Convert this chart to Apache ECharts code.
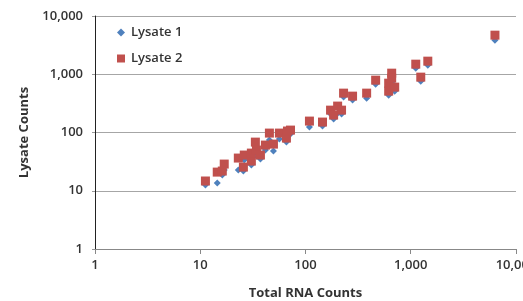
<!DOCTYPE html>
<html>
<head>
<meta charset="utf-8">
<script src="https://cdn.jsdelivr.net/npm/echarts@6/dist/echarts.min.js"></script>
<style>
  html, body { margin: 0; padding: 0; background: #fff; }
  #chart { width: 523px; height: 301px; }
</style>
</head>
<body>
<div id="chart"></div>
<script>
// total RNA counts (x) shared by both lysates
const rnaCounts = [11.2, 14.5, 16.2, 16.9, 23.0, 25.7, 26.2, 30.6, 30.6, 33.4,
  34.2, 37.3, 41.6, 45.4, 49.6, 56.5, 65.9, 67.4, 72.0, 109,
  145, 173, 185, 202, 220, 230, 280, 381, 464, 617,
  617, 659, 659, 704, 1116, 1245, 1452, 6310]
// lysate counts (y)
const lysate1 = [12.5, 13.6, 18.6, 22.6, 22.6, 21.8, 33.6, 27.6, 38, 49.9,
  39.4, 35.0, 49.9, 74.1, 48.0, 77.1, 68.4, 83.4, 93.9, 124,
  129, 207, 170, 215, 207, 405, 360, 389, 676, 578,
  437, 857, 732, 513, 1273, 762, 1432, 3846]
const lysate2 = [14.7, 20.9, 21.8, 28.7, 36.4, 25.5, 41.0, 32.3, 44.3, 68.4,
  49.9, 41.0, 60.8, 97.7, 63.2, 97.7, 80.2, 106, 110, 157,
  151, 242, 199, 284, 242, 474, 421, 474, 792, 703,
  513, 1044, 857, 601, 1490, 892, 1678, 4688]

const textFont = 'Open Sans'
const fmt = v => Number(v).toLocaleString('en-US')

const chart = echarts.init(document.getElementById('chart'))
chart.setOption({
  animation: false,
  grid: { left: 95, top: 16, right: 7, bottom: 52, outerBoundsMode: 'none', containLabel: false },
  legend: {
    orient: 'vertical',
    left: 112,
    top: 21,
    itemGap: 13,
    itemWidth: 8,
    itemHeight: 8,
    textStyle: { fontFamily: textFont, fontSize: 13, fontWeight: 600, color: '#333', padding: [0, 0, 0, 1] },
    data: [
      { name: 'Lysate 1', icon: 'diamond', itemStyle: { color: '#4F81BD' } },
      { name: 'Lysate 2', icon: 'rect', itemStyle: { color: '#C0504D' } }
    ]
  },
  xAxis: {
    type: 'log',
    logBase: 10,
    min: 1,
    max: 10000,
    name: 'Total RNA Counts',
    nameLocation: 'middle',
    nameGap: 38,
    nameTextStyle: { fontFamily: textFont, fontSize: 13, fontWeight: 'bold', color: '#333' },
    axisLine: { lineStyle: { color: '#888', width: 1 } },
    axisTick: { show: true, length: 5, lineStyle: { color: '#888' } },
    axisLabel: { margin: 10, fontFamily: textFont, fontSize: 13, fontWeight: 600, color: '#333', formatter: fmt },
    splitLine: { show: false }
  },
  yAxis: {
    type: 'log',
    logBase: 10,
    min: 1,
    max: 10000,
    name: 'Lysate Counts',
    nameLocation: 'middle',
    nameGap: 64,
    nameTextStyle: { fontFamily: textFont, fontSize: 13, fontWeight: 'bold', color: '#333' },
    axisLine: { show: true, lineStyle: { color: '#222', width: 1 } },
    axisTick: { show: true, length: 3, lineStyle: { color: '#999' } },
    axisLabel: { margin: 12, fontFamily: textFont, fontSize: 13, fontWeight: 600, color: '#333', formatter: fmt },
    splitLine: { show: true, lineStyle: { color: '#a6a6a6', width: 1 } }
  },
  series: [
    {
      name: 'Lysate 1',
      type: 'scatter',
      symbol: 'diamond',
      symbolSize: 7,
      itemStyle: { color: '#4F81BD', opacity: 1 },
      data: rnaCounts.map((x, i) => [x, lysate1[i]])
    },
    {
      name: 'Lysate 2',
      type: 'scatter',
      symbol: 'rect',
      symbolSize: 9,
      itemStyle: { color: '#C0504D', opacity: 1 },
      data: rnaCounts.map((x, i) => [x, lysate2[i]])
    }
  ]
})
</script>
</body>
</html>
